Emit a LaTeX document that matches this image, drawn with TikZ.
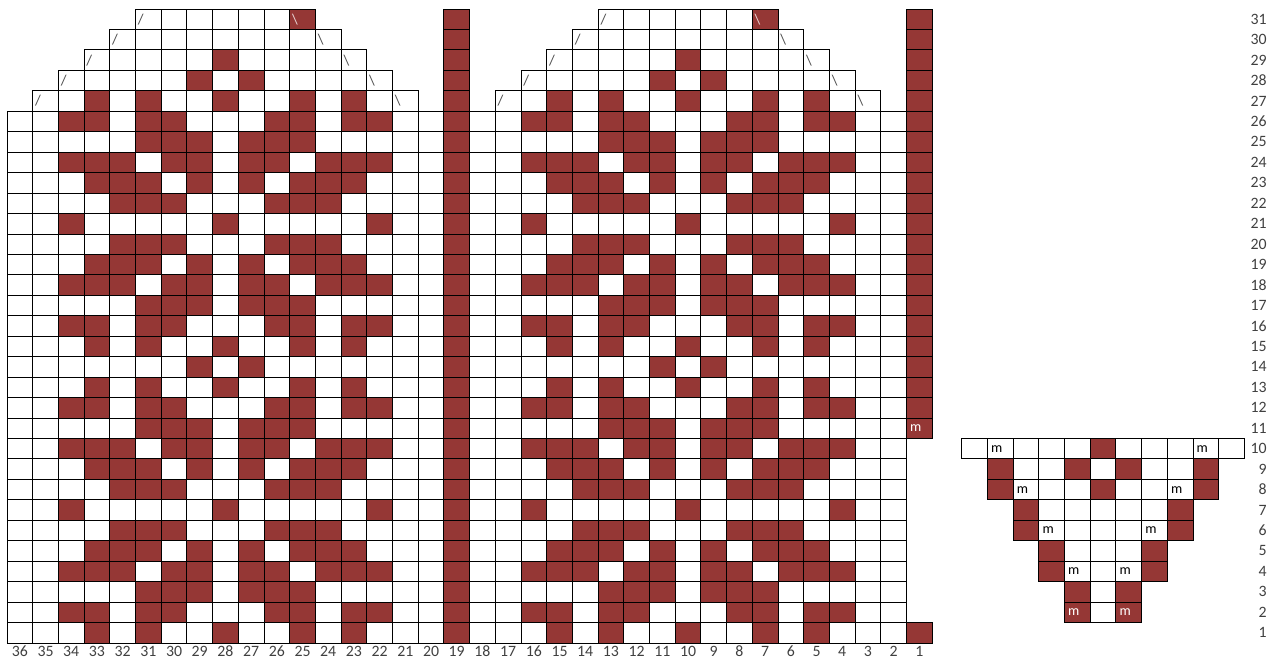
\documentclass[tikz,border=0pt]{standalone}
\usepackage{fontspec}
\setmainfont{Carlito}
\definecolor{knitred}{RGB}{149,55,53}
\begin{document}
\begin{tikzpicture}[x=0.514cm, y=0.409cm,
  cellline/.style={draw=black, line width=0.55pt},
  numlabel/.style={font=\fontsize{9}{9}\selectfont, text=black!75, inner sep=0pt},
  mlabel/.style={font=\fontsize{8}{8}\selectfont, inner sep=0pt, anchor=west},
  slashlabel/.style={font=\fontsize{8.5}{8.5}\selectfont, text=black!70, inner sep=0pt, anchor=west}]
  \useasboundingbox (-0.272,-0.929) rectangle (49.689,31.443);
  \foreach \r/\cols in {1/{33,31,28,25,23}, 2/{34,33,31,30,26,25,23,22}, 3/{31,30,29,27,26,25},
      4/{34,33,32,30,29,27,26,24,23,22}, 5/{33,32,31,29,27,25,24,23}, 6/{32,31,30,26,25,24},
      7/{34,28,22}, 8/{32,31,30,26,25,24}, 9/{33,32,31,29,27,25,24,23},
      10/{34,33,32,30,29,27,26,24,23,22}, 11/{31,30,29,27,26,25}, 12/{34,33,31,30,26,25,23,22},
      13/{33,31,28,25,23}, 14/{29,27}, 15/{33,31,28,25,23}, 16/{34,33,31,30,26,25,23,22},
      17/{31,30,29,27,26,25}, 18/{34,33,32,30,29,27,26,24,23,22}, 19/{33,32,31,29,27,25,24,23},
      20/{32,31,30,26,25,24}, 21/{34,28,22}, 22/{32,31,30,26,25,24},
      23/{33,32,31,29,27,25,24,23}, 24/{34,33,32,30,29,27,26,24,23,22}, 25/{31,30,29,27,26,25},
      26/{34,33,31,30,26,25,23,22}, 27/{33,31,28,25,23}, 28/{29,27}, 29/{28}, 31/{25}}
    \foreach \c in \cols {
      \fill[knitred] (36-\c,\r-1) rectangle ++(1,1);
      \fill[knitred] (54-\c,\r-1) rectangle ++(1,1);
    }
  \fill[knitred] (17,0) rectangle (18,31);
  \fill[knitred] (35,0) rectangle (36,1);
  \fill[knitred] (35,10) rectangle (36,31);

  \foreach \r in {1,...,26}
    \foreach \x in {0,...,16} {
      \draw[cellline] (\x,\r-1) rectangle ++(1,1);
      \draw[cellline] (\x+18,\r-1) rectangle ++(1,1);
    }
  \foreach \r/\a/\b in {27/1/15, 28/2/14, 29/3/13, 30/4/12, 31/5/11}
    \foreach \x in {\a,...,\b} {
      \draw[cellline] (\x,\r-1) rectangle ++(1,1);
      \draw[cellline] (\x+18,\r-1) rectangle ++(1,1);
    }
  \foreach \r in {1,...,31}
    \draw[cellline] (17,\r-1) rectangle ++(1,1);
  \foreach \r in {1,11,12,...,31}
    \draw[cellline] (35,\r-1) rectangle ++(1,1);

  \foreach \r/\a/\b in {27/1/15, 28/2/14, 29/3/13, 30/4/12} {
    \node[slashlabel] (lup\r) at (\a+0.08,\r-0.5) {/};
    \node[slashlabel] (ldown\r) at (\b+0.08,\r-0.5) {\textbackslash};
    \node[slashlabel] (rup\r) at (\a+18.08,\r-0.5) {/};
    \node[slashlabel] (rdown\r) at (\b+18.08,\r-0.5) {\textbackslash};
  }
  \node[slashlabel] (lup31) at (5.08,30.5) {/};
  \node[slashlabel, text=white!80!knitred] (ldown31) at (11.08,30.5) {\textbackslash};
  \node[slashlabel] (rup31) at (23.08,30.5) {/};
  \node[slashlabel, text=white!80!knitred] (rdown31) at (29.08,30.5) {\textbackslash};
  \node[mlabel, text=white] (mside) at (35.13,10.5) {m};

  \foreach \r/\cols in {10/{5}, 9/{1,4,6,9}, 8/{1,5,9}, 7/{2,8}, 6/{2,8}, 5/{3,7}, 4/{3,7}, 3/{4,6}, 2/{4,6}}
    \foreach \k in \cols
      \fill[knitred] (37.15+\k,\r-1) rectangle ++(1,1);
  \foreach \r/\a/\b in {10/0/10, 9/1/9, 8/1/9, 7/2/8, 6/2/8, 5/3/7, 4/3/7, 3/4/6, 2/4/6}
    \foreach \k in {\a,...,\b}
      \draw[cellline] (37.15+\k,\r-1) rectangle ++(1,1);
  \foreach \r/\k/\tc in {10/1/black, 10/9/black, 8/2/black, 8/8/black, 6/3/black, 6/7/black,
      4/4/black, 4/6/black, 2/4/white, 2/6/white}
    \node[mlabel, text=\tc] (m\r-\k) at (37.28+\k,\r-0.5) {m};

  \foreach \c in {1,...,36}
    \node[numlabel, anchor=base] (col\c) at (36.5-\c,-0.67) {\c};
  \foreach \r in {1,...,31}
    \node[numlabel, anchor=base east] (row\r) at (49.03,\r-0.745) {\r};
\end{tikzpicture}
\end{document}
